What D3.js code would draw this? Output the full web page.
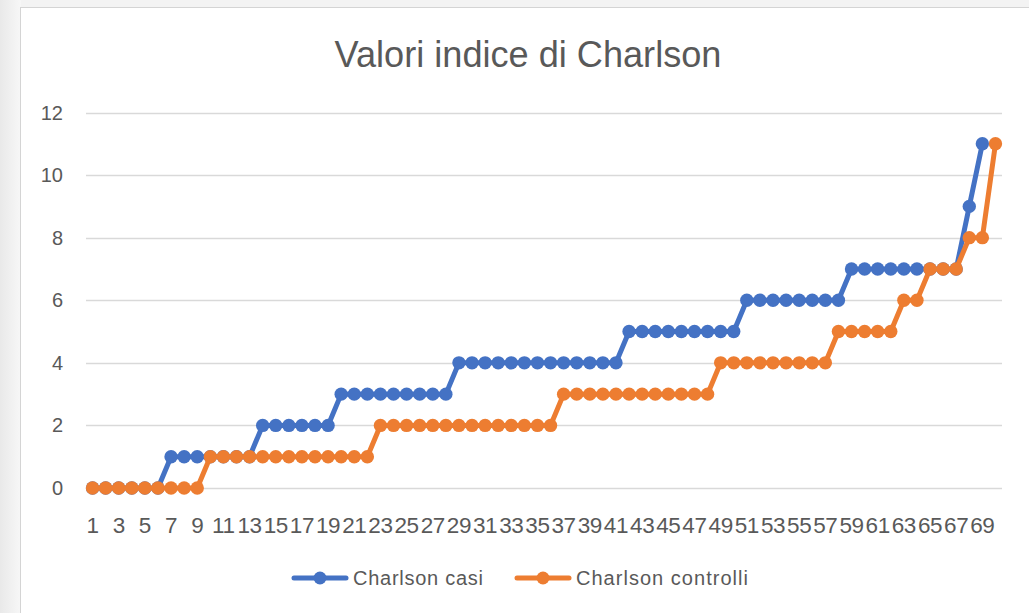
<!DOCTYPE html>
<html>
<head>
<meta charset="utf-8">
<script src="https://cdn.jsdelivr.net/npm/d3@7"></script>
<style>
  html, body { margin: 0; padding: 0; background: #f3f3f3; }
  svg { display: block; }
</style>
</head>
<body>
<svg id="chart" width="1029" height="613"></svg>
<script>
// categories 1..70
var categories = [];
for (var i = 1; i <= 70; i++) categories.push(i);

var casi = [0,0,0,0,0,0, 1,1,1,1,1,1,1, 2,2,2,2,2,2, 3,3,3,3,3,3,3,3,3,
            4,4,4,4,4,4,4,4,4,4,4,4,4, 5,5,5,5,5,5,5,5,5, 6,6,6,6,6,6,6,6,
            7,7,7,7,7,7,7,7,7, 9, 11];
var controlli = [0,0,0,0,0,0,0,0,0, 1,1,1,1,1,1,1,1,1,1,1,1,1,
                 2,2,2,2,2,2,2,2,2,2,2,2,2,2, 3,3,3,3,3,3,3,3,3,3,3,3,
                 4,4,4,4,4,4,4,4,4, 5,5,5,5,5, 6,6, 7,7,7, 8,8, 11];
var yTicks = [0, 2, 4, 6, 8, 10, 12];
var seriesNames = ["Charlson casi", "Charlson controlli"];
var colors = ["#4472C4", "#ED7D31"];

var svg = d3.select("#chart");
var font = "'Liberation Sans', Arial, sans-serif";
var narrow = "'Liberation Sans Narrow', 'Liberation Sans', Arial, sans-serif";

// page background + chart area
var grad = svg.append("defs").append("linearGradient").attr("id", "lg")
  .attr("x1", 0).attr("x2", 1).attr("y1", 0).attr("y2", 0);
grad.append("stop").attr("offset", "0%").attr("stop-color", "#e9e9e9");
grad.append("stop").attr("offset", "100%").attr("stop-color", "#f7f7f7");
svg.append("rect").attr("x", 0).attr("y", 0).attr("width", 21).attr("height", 613).attr("fill", "url(#lg)");
svg.append("rect").attr("x", 20.5).attr("y", 7.5).attr("width", 1020).attr("height", 620)
  .attr("fill", "#ffffff").attr("stroke", "#d4d4d4");

var x = d3.scalePoint().domain(categories).range([86, 1002]).padding(0.5);
var y = d3.scaleLinear().domain([0, 12]).range([488, 112.5]);

// gridlines
svg.append("g").selectAll("line").data(yTicks).join("line")
  .attr("x1", 86).attr("x2", 1002)
  .attr("y1", function(d) { return Math.round(y(d)) + 0.5; })
  .attr("y2", function(d) { return Math.round(y(d)) + 0.5; })
  .attr("stroke", "#d9d9d9").attr("stroke-width", 1.3);

// y labels
svg.append("g").selectAll("text").data(yTicks).join("text")
  .attr("x", 63).attr("y", function(d) { return y(d); })
  .attr("dy", "0.35em").attr("text-anchor", "end")
  .attr("font-family", font).attr("font-size", 20).attr("fill", "#595959")
  .text(function(d) { return d; });

// x labels (every other category)
svg.append("g").selectAll("text").data(categories.filter(function(c) { return c % 2 === 1; })).join("text")
  .attr("x", function(d) { return x(d); }).attr("y", 533)
  .attr("text-anchor", "middle")
  .attr("font-family", font).attr("font-size", 22.5).attr("fill", "#595959")
  .attr("letter-spacing", "-0.4px")
  .text(function(d) { return d; });

// title
var title = svg.append("text").attr("x", 528).attr("y", 67).attr("text-anchor", "middle")
  .attr("font-family", narrow).attr("font-size", 36).attr("fill", "#595959")
  .text("Valori indice di Charlson");
var tw = title.node().getComputedTextLength();
if (tw > 0) title.attr("font-size", 36 * 387 / tw);

// series
var all = [casi, controlli];
var line = d3.line()
  .x(function(d, i) { return x(categories[i]); })
  .y(function(d) { return y(d); });

all.forEach(function(vals, s) {
  var g = svg.append("g");
  g.append("path").datum(vals).attr("d", line)
    .attr("fill", "none").attr("stroke", colors[s]).attr("stroke-width", 5)
    .attr("stroke-linejoin", "round");
  g.selectAll("circle").data(vals).join("circle")
    .attr("cx", function(d, i) { return x(categories[i]); })
    .attr("cy", function(d) { return y(d); })
    .attr("r", 6.7).attr("fill", colors[s]);
});

// legend
var legX = [294, 517];
var legW = [130, 172];
seriesNames.forEach(function(name, s) {
  var lg = svg.append("g");
  lg.append("line").attr("x1", legX[s]).attr("x2", legX[s] + 52).attr("y1", 578).attr("y2", 578)
    .attr("stroke", colors[s]).attr("stroke-width", 5).attr("stroke-linecap", "round");
  lg.append("circle").attr("cx", legX[s] + 26).attr("cy", 578).attr("r", 6.5).attr("fill", colors[s]);
  lg.append("text").attr("x", legX[s] + 59).attr("y", 578).attr("dy", "0.35em")
    .attr("font-family", font).attr("font-size", 20).attr("fill", "#595959")
    .attr("textLength", legW[s]).attr("lengthAdjust", "spacing")
    .text(name);
});
</script>
</body>
</html>
